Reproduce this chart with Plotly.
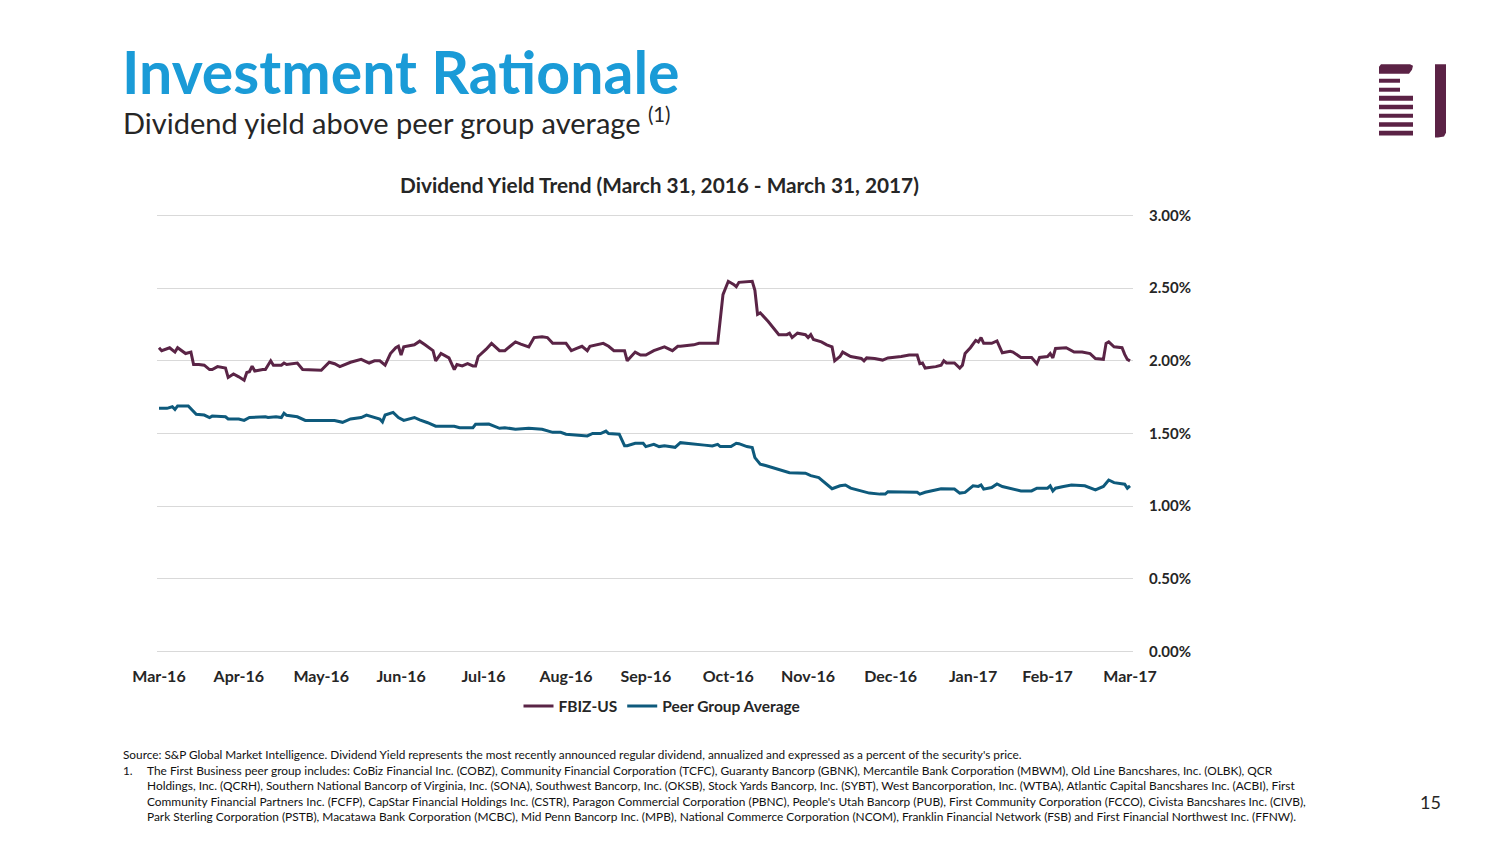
import plotly.graph_objects as go

# ---------------- data ----------------
fbiz_dates = [
    "2016-03-31", "2016-04-01", "2016-04-04", "2016-04-06", "2016-04-07", "2016-04-10", "2016-04-12",
    "2016-04-13", "2016-04-15", "2016-04-17", "2016-04-19", "2016-04-20", "2016-04-22", "2016-04-25",
    "2016-04-26", "2016-04-28", "2016-04-30", "2016-05-02", "2016-05-03", "2016-05-04", "2016-05-05",
    "2016-05-06", "2016-05-09", "2016-05-10", "2016-05-12", "2016-05-13", "2016-05-16", "2016-05-17",
    "2016-05-18", "2016-05-22", "2016-05-24", "2016-05-27", "2016-05-31", "2016-06-03", "2016-06-05",
    "2016-06-07", "2016-06-11", "2016-06-15", "2016-06-16", "2016-06-18", "2016-06-20", "2016-06-22",
    "2016-06-24", "2016-06-26", "2016-06-28", "2016-06-29", "2016-06-30", "2016-07-01", "2016-07-05",
    "2016-07-07", "2016-07-09", "2016-07-12", "2016-07-13", "2016-07-15", "2016-07-18", "2016-07-19",
    "2016-07-20", "2016-07-21", "2016-07-23", "2016-07-25", "2016-07-27", "2016-07-28", "2016-07-29",
    "2016-08-01", "2016-08-03", "2016-08-06", "2016-08-08", "2016-08-10", "2016-08-12", "2016-08-14",
    "2016-08-17", "2016-08-19", "2016-08-22", "2016-08-24", "2016-08-26", "2016-08-31", "2016-09-02",
    "2016-09-04", "2016-09-06", "2016-09-08", "2016-09-09", "2016-09-14", "2016-09-16", "2016-09-18",
    "2016-09-22", "2016-09-23", "2016-09-26", "2016-09-28", "2016-09-30", "2016-10-03", "2016-10-07",
    "2016-10-10", "2016-10-12", "2016-10-13", "2016-10-18", "2016-10-20", "2016-10-22", "2016-10-25",
    "2016-10-27", "2016-10-29", "2016-10-31", "2016-11-02", "2016-11-03", "2016-11-04", "2016-11-09",
    "2016-11-10", "2016-11-11", "2016-11-12", "2016-11-15", "2016-11-19", "2016-11-22", "2016-11-23",
    "2016-11-24", "2016-11-26", "2016-11-29", "2016-11-30", "2016-12-01", "2016-12-02", "2016-12-05",
    "2016-12-07", "2016-12-09", "2016-12-10", "2016-12-12", "2016-12-13", "2016-12-16", "2016-12-20",
    "2016-12-21", "2016-12-22", "2016-12-25", "2016-12-28", "2016-12-30", "2017-01-04", "2017-01-07",
    "2017-01-10", "2017-01-11", "2017-01-12", "2017-01-13", "2017-01-17", "2017-01-19", "2017-01-20",
    "2017-01-21", "2017-01-24", "2017-01-26", "2017-01-27", "2017-01-28", "2017-01-30", "2017-02-01",
    "2017-02-02", "2017-02-03", "2017-02-04", "2017-02-07", "2017-02-09", "2017-02-11", "2017-02-14",
    "2017-02-15", "2017-02-18", "2017-02-22", "2017-02-24", "2017-02-25", "2017-02-28", "2017-03-01",
    "2017-03-02", "2017-03-03", "2017-03-07", "2017-03-10", "2017-03-13", "2017-03-16", "2017-03-18",
    "2017-03-21", "2017-03-22", "2017-03-23", "2017-03-25", "2017-03-28", "2017-03-29", "2017-03-30",
    "2017-03-31",
]
fbiz_yield = [
    2.09, 2.07, 2.09, 2.06, 2.09, 2.05, 2.06,
    1.975, 1.975, 1.97, 1.94, 1.94, 1.96, 1.95,
    1.886, 1.91, 1.89, 1.867, 1.92, 1.925, 1.963,
    1.93, 1.94, 1.94, 2.00, 1.97, 1.97, 1.985,
    1.975, 1.985, 1.94, 1.94, 1.935, 1.99, 1.98,
    1.96, 1.99, 2.01, 2.00, 1.985, 2.00, 2.00,
    1.97, 2.05, 2.09, 2.10, 2.04, 2.096, 2.11,
    2.135, 2.11, 2.07, 2.00, 2.05, 2.02, 1.98,
    1.94, 1.975, 1.965, 1.98, 1.965, 1.965, 2.03,
    2.08, 2.12, 2.07, 2.07, 2.10, 2.13, 2.115,
    2.096, 2.16, 2.165, 2.16, 2.12, 2.12, 2.07,
    2.085, 2.10, 2.07, 2.10, 2.12, 2.10, 2.07,
    2.07, 2.00, 2.06, 2.04, 2.04, 2.07, 2.096,
    2.07, 2.10, 2.10, 2.11, 2.12, 2.12, 2.115,
    2.12, 2.455, 2.547, 2.526, 2.51, 2.54, 2.547,
    2.485, 2.32, 2.33, 2.27, 2.18, 2.18, 2.19,
    2.16, 2.19, 2.18, 2.16, 2.18, 2.147, 2.13,
    2.11, 2.096, 2.00, 2.03, 2.06, 2.03, 2.016,
    2.00, 2.02, 2.016, 2.005, 2.02, 2.03, 2.04,
    2.04, 1.98, 1.985, 1.95, 1.96, 1.97, 2.00,
    1.985, 1.985, 1.95, 1.97, 2.05, 2.09, 2.14,
    2.13, 2.16, 2.12, 2.12, 2.137, 2.055, 2.066,
    2.06, 2.023, 2.023, 1.98, 2.023, 2.03, 2.05,
    2.02, 2.085, 2.09, 2.06, 2.06, 2.05, 2.016,
    2.01, 2.12, 2.13, 2.096, 2.09, 2.044, 2.01,
    2.00,
]

peer_dates = [
    "2016-03-31", "2016-04-03", "2016-04-05", "2016-04-06", "2016-04-07", "2016-04-11", "2016-04-14",
    "2016-04-17", "2016-04-19", "2016-04-20", "2016-04-25", "2016-04-26", "2016-04-30", "2016-05-02",
    "2016-05-04", "2016-05-10", "2016-05-11", "2016-05-14", "2016-05-16", "2016-05-17", "2016-05-18",
    "2016-05-22", "2016-05-25", "2016-05-28", "2016-06-01", "2016-06-05", "2016-06-08", "2016-06-11",
    "2016-06-15", "2016-06-17", "2016-06-22", "2016-06-23", "2016-06-24", "2016-06-27", "2016-06-29",
    "2016-07-01", "2016-07-05", "2016-07-07", "2016-07-10", "2016-07-13", "2016-07-20", "2016-07-22",
    "2016-07-27", "2016-07-28", "2016-08-02", "2016-08-04", "2016-08-06", "2016-08-08", "2016-08-12",
    "2016-08-17", "2016-08-22", "2016-08-26", "2016-08-29", "2016-08-31", "2016-09-03", "2016-09-08",
    "2016-09-10", "2016-09-13", "2016-09-15", "2016-09-16", "2016-09-20", "2016-09-22", "2016-09-23",
    "2016-09-26", "2016-09-29", "2016-09-30", "2016-10-03", "2016-10-05", "2016-10-07", "2016-10-11",
    "2016-10-13", "2016-10-18", "2016-10-22", "2016-10-25", "2016-10-27", "2016-10-28", "2016-11-01",
    "2016-11-03", "2016-11-04", "2016-11-07", "2016-11-09", "2016-11-10", "2016-11-12", "2016-11-14",
    "2016-11-16", "2016-11-19", "2016-11-23", "2016-11-29", "2016-12-01", "2016-12-04", "2016-12-06",
    "2016-12-09", "2016-12-12", "2016-12-14", "2016-12-16", "2016-12-20", "2016-12-23", "2016-12-27",
    "2016-12-29", "2016-12-30", "2017-01-04", "2017-01-10", "2017-01-11", "2017-01-13", "2017-01-19",
    "2017-01-24", "2017-01-26", "2017-01-28", "2017-01-31", "2017-02-02", "2017-02-03", "2017-02-04",
    "2017-02-07", "2017-02-09", "2017-02-11", "2017-02-15", "2017-02-18", "2017-02-22", "2017-02-24",
    "2017-02-28", "2017-03-01", "2017-03-02", "2017-03-03", "2017-03-06", "2017-03-09", "2017-03-14",
    "2017-03-18", "2017-03-21", "2017-03-23", "2017-03-25", "2017-03-29", "2017-03-30", "2017-03-31",
]
peer_yield = [
    1.673, 1.673, 1.684, 1.666, 1.69, 1.69, 1.632,
    1.627, 1.61, 1.62, 1.615, 1.60, 1.60, 1.59,
    1.61, 1.615, 1.61, 1.615, 1.61, 1.639, 1.625,
    1.615, 1.59, 1.59, 1.593, 1.59, 1.577, 1.60,
    1.61, 1.627, 1.60, 1.58, 1.627, 1.645, 1.61,
    1.59, 1.61, 1.593, 1.574, 1.55, 1.55, 1.54,
    1.54, 1.563, 1.565, 1.55, 1.536, 1.54, 1.53,
    1.536, 1.529, 1.508, 1.508, 1.495, 1.49, 1.483,
    1.50, 1.50, 1.517, 1.50, 1.495, 1.416, 1.416,
    1.433, 1.433, 1.41, 1.426, 1.41, 1.416, 1.405,
    1.437, 1.43, 1.42, 1.414, 1.425, 1.41, 1.41,
    1.433, 1.43, 1.41, 1.403, 1.334, 1.289, 1.28,
    1.27, 1.25, 1.23, 1.227, 1.21, 1.197, 1.165,
    1.12, 1.14, 1.146, 1.124, 1.107, 1.09, 1.083,
    1.083, 1.10, 1.096, 1.096, 1.083, 1.096, 1.12,
    1.118, 1.09, 1.095, 1.14, 1.136, 1.146, 1.117,
    1.128, 1.153, 1.135, 1.12, 1.105, 1.105, 1.124,
    1.124, 1.14, 1.105, 1.124, 1.136, 1.146, 1.14,
    1.112, 1.136, 1.18, 1.162, 1.151, 1.124, 1.14,
]

x_tick_dates = ["2016-03-31", "2016-04-30", "2016-05-31", "2016-06-30", "2016-07-31", "2016-08-31",
                "2016-09-30", "2016-10-31", "2016-11-30", "2016-12-31", "2017-01-31", "2017-02-28",
                "2017-03-31"]
x_tick_labels = ["Mar-16", "Apr-16", "May-16", "Jun-16", "Jul-16", "Aug-16", "Sep-16", "Oct-16",
                 "Nov-16", "Dec-16", "Jan-17", "Feb-17", "Mar-17"]
y_tick_vals = [0.0, 0.5, 1.0, 1.5, 2.0, 2.5, 3.0]
y_tick_labels = ["0.00%", "0.50%", "1.00%", "1.50%", "2.00%", "2.50%", "3.00%"]

series_names = ["FBIZ-US", "Peer Group Average"]

title_text = "Investment Rationale"
subtitle_text = "Dividend yield above peer group average"
chart_title = "Dividend Yield Trend (March 31, 2016 - March 31, 2017)"
footnotes = [
    "Source: S&P Global Market Intelligence. Dividend Yield represents the most recently announced regular dividend, annualized and expressed as a percent of the security's price.",
    "The First Business peer group includes: CoBiz Financial Inc. (COBZ), Community Financial Corporation (TCFC), Guaranty Bancorp (GBNK), Mercantile Bank Corporation (MBWM), Old Line Bancshares, Inc. (OLBK), QCR",
    "Holdings, Inc. (QCRH), Southern National Bancorp of Virginia, Inc. (SONA), Southwest Bancorp, Inc. (OKSB), Stock Yards Bancorp, Inc. (SYBT), West Bancorporation, Inc. (WTBA), Atlantic Capital Bancshares Inc. (ACBI), First",
    "Community Financial Partners Inc. (FCFP), CapStar Financial Holdings Inc. (CSTR), Paragon Commercial Corporation (PBNC), People's Utah Bancorp (PUB), First Community Corporation (FCCO), Civista Bancshares Inc. (CIVB),",
    "Park Sterling Corporation (PSTB), Macatawa Bank Corporation (MCBC), Mid Penn Bancorp Inc. (MPB), National Commerce Corporation (NCOM), Franklin Financial Network (FSB) and First Financial Northwest Inc. (FFNW).",
]
page_number = "15"

# ---------------- styling / geometry ----------------
FONT = "Lato"
PURPLE = "#5a2446"
TEAL = "#0e5a7c"
BLUE = "#1a9bd7"
TXT = "#262626"

OFF = 8                      # browser body margin
PAGE_W, PAGE_H = 1504, 846
W, H = PAGE_W - 2 * OFF, PAGE_H - 2 * OFF
Y0, Y1 = 0.0, 3.0
YPAD = 0.01
PX_PER_UNIT = (652 - 215) / (Y1 - Y0)
# page-pixel plot area
L, R = 157, 1133
T = 215 - YPAD * PX_PER_UNIT
B = 652 + YPAD * PX_PER_UNIT


def xp(px):
    return (px - L) / (R - L)


def yp(py):
    return (B - py) / (B - T)


fig = go.Figure()
fig.add_trace(go.Scatter(x=fbiz_dates, y=fbiz_yield, mode="lines", name=series_names[0],
                         line=dict(color=PURPLE, width=3)))
fig.add_trace(go.Scatter(x=peer_dates, y=peer_yield, mode="lines", name=series_names[1],
                         line=dict(color=TEAL, width=3)))

fig.update_layout(
    width=W, height=H,
    margin=dict(l=L - OFF, r=W - (R - OFF), t=T - OFF, b=H - (B - OFF), pad=0),
    paper_bgcolor="white", plot_bgcolor="white",
    font=dict(family=FONT, color=TXT),
    showlegend=True,
    legend=dict(orientation="h", x=xp(662), y=yp(707), xanchor="center", yanchor="middle",
                font=dict(family=FONT, size=15.5, color=TXT, weight="bold"),
                itemwidth=30, tracegroupgap=0, bgcolor="rgba(0,0,0,0)"),
    xaxis=dict(type="date", range=["2016-03-30 06:00", "2017-04-01 03:00"],
               tickmode="array", tickvals=x_tick_dates, ticktext=x_tick_labels,
               showgrid=False, zeroline=False, showline=False, ticks="",
               ticklabelstandoff=12,
               tickfont=dict(family=FONT, size=16, color=TXT, weight="bold")),
    yaxis=dict(range=[Y0 - YPAD, Y1 + YPAD], side="right", tickmode="array", tickvals=y_tick_vals,
               ticktext=y_tick_labels, showgrid=True, gridcolor="#d9d9d9", gridwidth=1,
               zeroline=False, showline=False, ticks="", ticklabelstandoff=15,
               tickfont=dict(family=FONT, size=15, color=TXT, weight="bold")),
)

ann = []
ann.append(dict(text="<b>" + title_text + "</b>", x=xp(120), y=yp(71), xanchor="left", yanchor="middle",
                font=dict(family=FONT, size=59, color=BLUE)))
ann.append(dict(text=subtitle_text + " <sup>(1)</sup>", x=xp(121), y=yp(120), xanchor="left",
                yanchor="middle", font=dict(family=FONT, size=29, color=TXT)))
ann.append(dict(text="<b>" + chart_title + "</b>", x=xp(659), y=yp(184), xanchor="center",
                yanchor="middle", font=dict(family=FONT, size=20.8, color=TXT)))
ann.append(dict(text=footnotes[0], x=xp(121), y=yp(755), xanchor="left", yanchor="middle",
                font=dict(family=FONT, size=11.8, color="#111")))
ann.append(dict(text="1.", x=xp(121), y=yp(771), xanchor="left", yanchor="middle",
                font=dict(family=FONT, size=11.8, color="#111")))
for i, line in enumerate(footnotes[1:]):
    ann.append(dict(text=line, x=xp(145), y=yp(771 + i * 15.4), xanchor="left", yanchor="middle",
                    font=dict(family=FONT, size=11.9, color="#111")))
ann.append(dict(text=page_number, x=xp(1430), y=yp(803), xanchor="center", yanchor="middle",
                font=dict(family=FONT, size=18, color=TXT)))
for a in ann:
    a.update(xref="paper", yref="paper", showarrow=False)
fig.update_layout(annotations=ann)

# logo (decorative)
LOGO = "#5b2245"
shapes = []


def rect(x0, y0, x1, y1):
    return dict(type="rect", xref="paper", yref="paper", x0=xp(x0), x1=xp(x1), y0=yp(y1), y1=yp(y0),
                fillcolor=LOGO, line=dict(width=0), layer="above")


def path(points):
    d = "M " + " L ".join(f"{xp(a):.5f},{yp(b):.5f}" for a, b in points) + " Z"
    return dict(type="path", xref="paper", yref="paper", path=d, fillcolor=LOGO,
                line=dict(width=0), layer="above")


shapes.append(path([(1379, 73), (1379, 66), (1381, 63.5), (1410, 63.5), (1413, 65), (1412, 69),
                    (1409, 73)]))
for y0, y1 in [(78, 82), (87, 91)]:
    shapes.append(rect(1379, y0, 1400, y1))
for y0, y1 in [(95, 100), (104, 108.5), (113, 117), (121.5, 126), (130, 135)]:
    shapes.append(rect(1379, y0, 1413, y1))
shapes.append(path([(1435, 63.5), (1446, 63.5), (1446, 132), (1444, 136), (1438, 137), (1435, 137)]))
fig.update_layout(shapes=shapes)

fig.write_html("out.html")
